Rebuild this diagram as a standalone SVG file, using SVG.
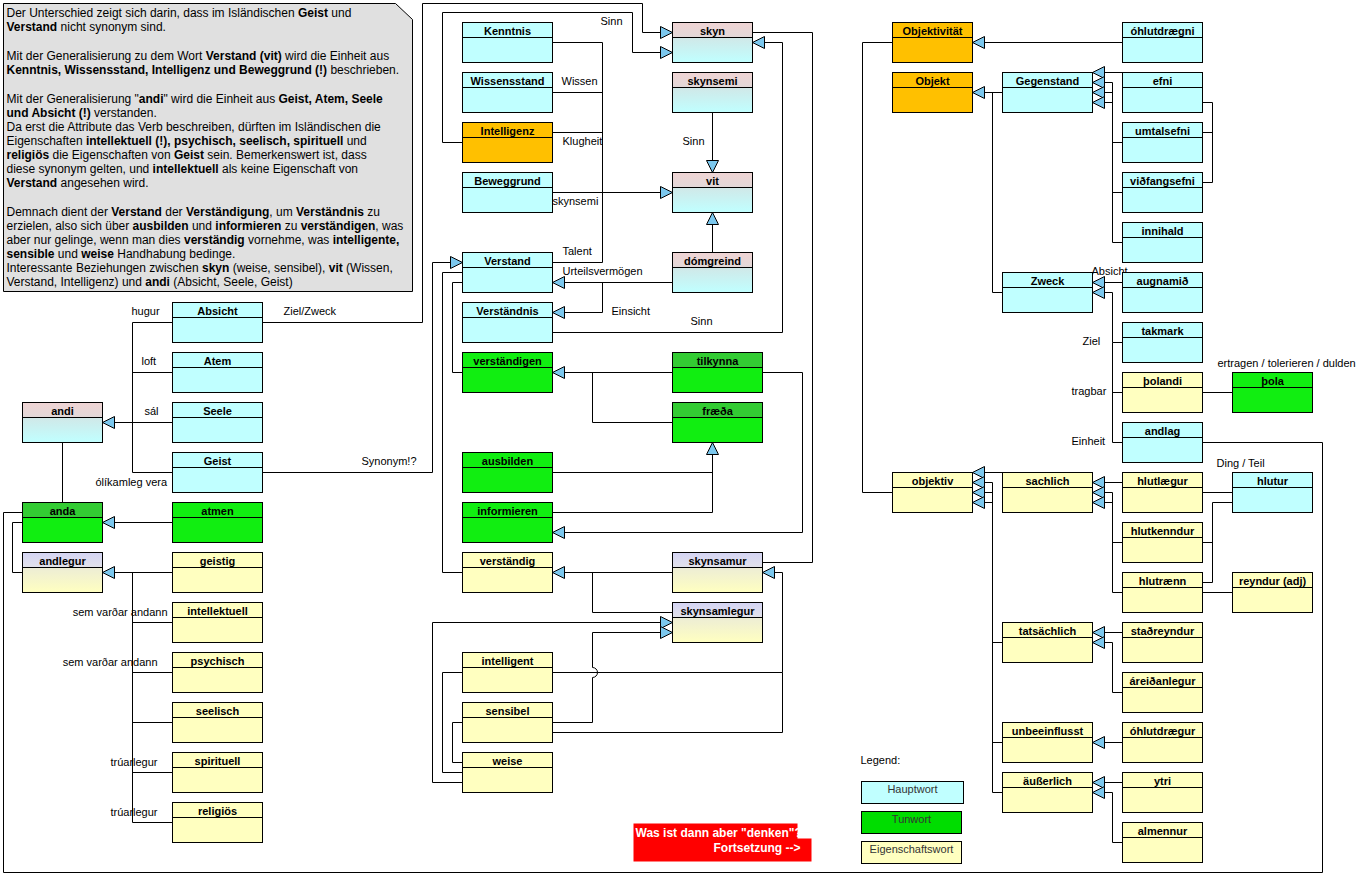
<svg xmlns="http://www.w3.org/2000/svg" width="1366" height="876" viewBox="0 0 1366 876">
<style>
.bx{stroke:#000;stroke-width:1}
.cy{fill:#c0ffff}.or{fill:#ffc000}.ye{fill:#ffffc0}.gr{fill:#11ee11}.gh{fill:#33cc33}
.pk{fill:url(#gPk)}.pkh{fill:url(#gPkH)}.lv{fill:url(#gLv)}.lvh{fill:url(#gLvH)}
.t{font:bold 11px "Liberation Sans",Arial,sans-serif;text-anchor:middle;fill:#000}
.l{font:11px "Liberation Sans",Arial,sans-serif;fill:#000}
.e{text-anchor:end}
.n{font:12px "Liberation Sans",Arial,sans-serif;fill:#000}
.n tspan.b{font-weight:bold}
.c{fill:none;stroke:#000;stroke-width:1}
.a{marker-end:url(#ar)}
.lg{font:11px "Liberation Sans",Arial,sans-serif;fill:#333;text-anchor:middle}
</style>
<defs>
<linearGradient id="gPk" x1="0" y1="0" x2="0" y2="1"><stop offset="0" stop-color="#dadada"/><stop offset="1" stop-color="#c0ffff"/></linearGradient>
<linearGradient id="gPkH" x1="0" y1="0" x2="0" y2="1"><stop offset="0" stop-color="#f0d4d4"/><stop offset="1" stop-color="#e2d8d8"/></linearGradient>
<linearGradient id="gLv" x1="0" y1="0" x2="0" y2="1"><stop offset="0" stop-color="#e2e2e2"/><stop offset="1" stop-color="#ffffc0"/></linearGradient>
<linearGradient id="gLvH" x1="0" y1="0" x2="0" y2="1"><stop offset="0" stop-color="#d4d4f4"/><stop offset="1" stop-color="#e2e2ea"/></linearGradient>
<marker id="ar" viewBox="0 0 13 13" refX="12.5" refY="6.5" markerWidth="13" markerHeight="13" markerUnits="userSpaceOnUse" orient="auto"><path d="M0.5,0.5 L12.5,6.5 L0.5,12.5 Z" fill="#7cc8ee" stroke="#000" stroke-width="1"/></marker>
</defs>
<rect width="1366" height="876" fill="#fff"/>
<g transform="translate(0.5,0.5)">
<g id="note">
<path d="M3,3 H395 L412,19 V291 H3 Z" fill="#e0e0e0" stroke="#000"/>
<text class="n" x="6" y="16">Der Unterschied zeigt sich darin, dass im Isländischen <tspan class="b">Geist</tspan> und</text>
<text class="n" x="6" y="30"><tspan class="b">Verstand</tspan> nicht synonym sind.</text>
<text class="n" x="6" y="59">Mit der Generalisierung zu dem Wort <tspan class="b">Verstand (vit)</tspan> wird die Einheit aus</text>
<text class="n" x="6" y="73"><tspan class="b">Kenntnis, Wissensstand, Intelligenz und Beweggrund (!)</tspan> beschrieben.</text>
<text class="n" x="6" y="102">Mit der Generalisierung "<tspan class="b">andi</tspan>" wird die Einheit aus <tspan class="b">Geist, Atem, Seele</tspan></text>
<text class="n" x="6" y="116"><tspan class="b">und Absicht (!)</tspan> verstanden.</text>
<text class="n" x="6" y="130">Da erst die Attribute das Verb beschreiben, dürften im Isländischen die</text>
<text class="n" x="6" y="144">Eigenschaften <tspan class="b">intellektuell (!), psychisch, seelisch, spirituell</tspan> und</text>
<text class="n" x="6" y="158"><tspan class="b">religiös</tspan> die Eigenschaften von <tspan class="b">Geist</tspan> sein. Bemerkenswert ist, dass</text>
<text class="n" x="6" y="172">diese synonym gelten, und <tspan class="b">intellektuell</tspan> als keine Eigenschaft von</text>
<text class="n" x="6" y="186"><tspan class="b">Verstand</tspan> angesehen wird.</text>
<text class="n" x="6" y="215">Demnach dient der <tspan class="b">Verstand</tspan> der <tspan class="b">Verständigung</tspan>, um <tspan class="b">Verständnis</tspan> zu</text>
<text class="n" x="6" y="229">erzielen, also sich über <tspan class="b">ausbilden</tspan> und <tspan class="b">informieren</tspan> zu <tspan class="b">verständigen</tspan>, was</text>
<text class="n" x="6" y="243">aber nur gelinge, wenn man dies <tspan class="b">verständig</tspan> vornehme, was <tspan class="b">intelligente,</tspan></text>
<text class="n" x="6" y="257"><tspan class="b">sensible</tspan> und <tspan class="b">weise</tspan> Handhabung bedinge.</text>
<text class="n" x="6" y="271">Interessante Beziehungen zwischen <tspan class="b">skyn</tspan> (weise, sensibel), <tspan class="b">vit</tspan> (Wissen,</text>
<text class="n" x="6" y="285">Verstand, Intelligenz) und <tspan class="b">andi</tspan> (Absicht, Seele, Geist)</text>
</g>
<g id="connectors">
<path class="c" d="M172,322 H132 V472 H172 M172,372 H132 M172,422 H132"/>
<path class="c a" d="M132,422 H102"/>
<path class="c" d="M62,442 V502"/>
<path class="c a" d="M172,522 H102"/>
<path class="c a" d="M172,572 H102"/>
<path class="c" d="M132,572 V822 H172 M172,622 H132 M172,672 H132 M172,722 H132 M172,772 H132"/>
<path class="c" d="M22,512 H3 V872 H1322 V442 H1202"/>
<path class="c" d="M22,522 H12 V572 H22"/>
<path class="c a" d="M262,322 H422 V3 H642 V32 H672"/>
<path class="c a" d="M262,472 H432 V262 H462"/>
<path class="c a" d="M462,142 H442 V12 H632 V52 H672"/>
<path class="c" d="M552,42 H602 V262 H552 M552,92 H602 M552,132 H602"/>
<path class="c a" d="M552,192 H672"/>
<path class="c a" d="M712,112 V172"/>
<path class="c a" d="M712,252 V212"/>
<path class="c a" d="M672,282 H552"/>
<path class="c a" d="M602,282 V312 H552"/>
<path class="c a" d="M552,332 H782 V42 H752"/>
<path class="c" d="M752,32 H812 V562 H762"/>
<path class="c" d="M462,272 H442 V572 H462"/>
<path class="c" d="M462,282 H452 V372 H462"/>
<path class="c a" d="M672,372 H552"/>
<path class="c" d="M592,372 V422 H672"/>
<path class="c" d="M552,472 H712"/>
<path class="c a" d="M552,512 H712 V442"/>
<path class="c a" d="M762,372 H802 V532 H552"/>
<path class="c a" d="M672,572 H552"/>
<path class="c" d="M592,572 V612 H672"/>
<path class="c a" d="M552,672 H782 V572 H762"/>
<path class="c" d="M552,732 H782 V672"/>
<path class="c a" d="M462,782 H432 V622 H672"/>
<path class="c a" d="M552,722 H592 V677 A5,5 0 0 0 592,667 V632 H672"/>
<path class="c" d="M462,672 H442 V772 H462"/>
<path class="c" d="M462,722 H452 V762 H462"/>
<path class="c" d="M892,42 H862 V492 H892"/>
<path class="c a" d="M1122,42 H972"/>
<path class="c a" d="M1002,92 H972"/>
<path class="c" d="M992,92 V292 H1002"/>
<path class="c a" d="M1122,72 H1092"/>
<path class="c a" d="M1122,142 H1112 V82 H1092"/>
<path class="c a" d="M1122,192 H1112 V92 H1092"/>
<path class="c a" d="M1122,242 H1112 V102 H1092"/>
<path class="c" d="M1202,102 H1212 V182 H1202 M1202,132 H1212"/>
<path class="c a" d="M1122,282 H1092"/>
<path class="c a" d="M1122,342 H1112 V292 H1092"/>
<path class="c" d="M1122,392 H1112 M1122,442 H1112 V342"/>
<path class="c" d="M1202,392 H1232"/>
<path class="c a" d="M1002,472 H972"/>
<path class="c a" d="M1002,642 H992 V482 H972"/>
<path class="c a" d="M1002,742 H992 V492 H972"/>
<path class="c a" d="M1002,792 H992 V502 H972"/>
<path class="c a" d="M1122,482 H1092"/>
<path class="c a" d="M1122,542 H1112 V492 H1092"/>
<path class="c a" d="M1122,592 H1112 V502 H1092"/>
<path class="c" d="M1202,492 H1232"/>
<path class="c" d="M1232,502 H1212 V582 H1202 M1202,542 H1212"/>
<path class="c" d="M1202,592 H1232"/>
<path class="c a" d="M1122,632 H1092"/>
<path class="c a" d="M1122,692 H1112 V642 H1092"/>
<path class="c a" d="M1122,742 H1092"/>
<path class="c a" d="M1122,782 H1092"/>
<path class="c a" d="M1122,842 H1112 V792 H1092"/>
</g>
<g id="labels">
<text class="l" x="600" y="24">Sinn</text>
<text class="l" x="561" y="84">Wissen</text>
<text class="l" x="562" y="144">Klugheit</text>
<text class="l" x="552" y="204">skynsemi</text>
<text class="l" x="682" y="144">Sinn</text>
<text class="l" x="562" y="254">Talent</text>
<text class="l" x="562" y="274">Urteilsvermögen</text>
<text class="l" x="611" y="314">Einsicht</text>
<text class="l" x="690" y="324">Sinn</text>
<text class="l" x="131" y="314">hugur</text>
<text class="l" x="141" y="364">loft</text>
<text class="l" x="144" y="414">sál</text>
<text class="l" x="95" y="485">ólíkamleg vera</text>
<text class="l" x="283" y="314">Ziel/Zweck</text>
<text class="l" x="361" y="464">Synonym!?</text>
<text class="l e" x="167" y="615">sem varðar andann</text>
<text class="l e" x="157" y="665">sem varðar andann</text>
<text class="l e" x="157" y="765">trúarlegur</text>
<text class="l e" x="157" y="815">trúarlegur</text>
<text class="l" x="1091" y="274">Absicht</text>
<text class="l" x="1082" y="344">Ziel</text>
<text class="l" x="1071" y="394">tragbar</text>
<text class="l" x="1071" y="444">Einheit</text>
<text class="l" x="1217" y="366">ertragen / tolerieren / dulden</text>
<text class="l" x="1216" y="466">Ding / Teil</text>
</g>
<g id="n-andi"><rect class="bx pk" x="22" y="402" width="80" height="40"/><rect class="bx pkh" x="22" y="402" width="80" height="15"/><text class="t" x="62" y="414">andi</text></g>
<g id="n-absicht"><rect class="bx cy" x="172" y="302" width="90" height="40"/><rect class="bx cy" x="172" y="302" width="90" height="15"/><text class="t" x="217" y="314">Absicht</text></g>
<g id="n-atem"><rect class="bx cy" x="172" y="352" width="90" height="40"/><rect class="bx cy" x="172" y="352" width="90" height="15"/><text class="t" x="217" y="364">Atem</text></g>
<g id="n-seele"><rect class="bx cy" x="172" y="402" width="90" height="40"/><rect class="bx cy" x="172" y="402" width="90" height="15"/><text class="t" x="217" y="414">Seele</text></g>
<g id="n-geist"><rect class="bx cy" x="172" y="452" width="90" height="40"/><rect class="bx cy" x="172" y="452" width="90" height="15"/><text class="t" x="217" y="464">Geist</text></g>
<g id="n-anda"><rect class="bx gr" x="22" y="502" width="80" height="40"/><rect class="bx gh" x="22" y="502" width="80" height="15"/><text class="t" x="62" y="514">anda</text></g>
<g id="n-atmen"><rect class="bx gr" x="172" y="502" width="90" height="40"/><rect class="bx gr" x="172" y="502" width="90" height="15"/><text class="t" x="217" y="514">atmen</text></g>
<g id="n-andlegur"><rect class="bx lv" x="22" y="552" width="80" height="40"/><rect class="bx lvh" x="22" y="552" width="80" height="15"/><text class="t" x="62" y="564">andlegur</text></g>
<g id="n-geistig"><rect class="bx ye" x="172" y="552" width="90" height="40"/><rect class="bx ye" x="172" y="552" width="90" height="15"/><text class="t" x="217" y="564">geistig</text></g>
<g id="n-intellektuell"><rect class="bx ye" x="172" y="602" width="90" height="40"/><rect class="bx ye" x="172" y="602" width="90" height="15"/><text class="t" x="217" y="614">intellektuell</text></g>
<g id="n-psychisch"><rect class="bx ye" x="172" y="652" width="90" height="40"/><rect class="bx ye" x="172" y="652" width="90" height="15"/><text class="t" x="217" y="664">psychisch</text></g>
<g id="n-seelisch"><rect class="bx ye" x="172" y="702" width="90" height="40"/><rect class="bx ye" x="172" y="702" width="90" height="15"/><text class="t" x="217" y="714">seelisch</text></g>
<g id="n-spirituell"><rect class="bx ye" x="172" y="752" width="90" height="40"/><rect class="bx ye" x="172" y="752" width="90" height="15"/><text class="t" x="217" y="764">spirituell</text></g>
<g id="n-religioes"><rect class="bx ye" x="172" y="802" width="90" height="40"/><rect class="bx ye" x="172" y="802" width="90" height="15"/><text class="t" x="217" y="814">religiös</text></g>
<g id="n-kenntnis"><rect class="bx cy" x="462" y="22" width="90" height="40"/><rect class="bx cy" x="462" y="22" width="90" height="15"/><text class="t" x="507" y="34">Kenntnis</text></g>
<g id="n-wissensstand"><rect class="bx cy" x="462" y="72" width="90" height="40"/><rect class="bx cy" x="462" y="72" width="90" height="15"/><text class="t" x="507" y="84">Wissensstand</text></g>
<g id="n-intelligenz"><rect class="bx or" x="462" y="122" width="90" height="40"/><rect class="bx or" x="462" y="122" width="90" height="15"/><text class="t" x="507" y="134">Intelligenz</text></g>
<g id="n-beweggrund"><rect class="bx cy" x="462" y="172" width="90" height="40"/><rect class="bx cy" x="462" y="172" width="90" height="15"/><text class="t" x="507" y="184">Beweggrund</text></g>
<g id="n-verstand"><rect class="bx cy" x="462" y="252" width="90" height="40"/><rect class="bx cy" x="462" y="252" width="90" height="15"/><text class="t" x="507" y="264">Verstand</text></g>
<g id="n-verstaendnis"><rect class="bx cy" x="462" y="302" width="90" height="40"/><rect class="bx cy" x="462" y="302" width="90" height="15"/><text class="t" x="507" y="314">Verständnis</text></g>
<g id="n-verstaendigen"><rect class="bx gr" x="462" y="352" width="90" height="40"/><rect class="bx gr" x="462" y="352" width="90" height="15"/><text class="t" x="507" y="364">verständigen</text></g>
<g id="n-ausbilden"><rect class="bx gr" x="462" y="452" width="90" height="40"/><rect class="bx gr" x="462" y="452" width="90" height="15"/><text class="t" x="507" y="464">ausbilden</text></g>
<g id="n-informieren"><rect class="bx gr" x="462" y="502" width="90" height="40"/><rect class="bx gr" x="462" y="502" width="90" height="15"/><text class="t" x="507" y="514">informieren</text></g>
<g id="n-verstaendig"><rect class="bx ye" x="462" y="552" width="90" height="40"/><rect class="bx ye" x="462" y="552" width="90" height="15"/><text class="t" x="507" y="564">verständig</text></g>
<g id="n-intelligent"><rect class="bx ye" x="462" y="652" width="90" height="40"/><rect class="bx ye" x="462" y="652" width="90" height="15"/><text class="t" x="507" y="664">intelligent</text></g>
<g id="n-sensibel"><rect class="bx ye" x="462" y="702" width="90" height="40"/><rect class="bx ye" x="462" y="702" width="90" height="15"/><text class="t" x="507" y="714">sensibel</text></g>
<g id="n-weise"><rect class="bx ye" x="462" y="752" width="90" height="40"/><rect class="bx ye" x="462" y="752" width="90" height="15"/><text class="t" x="507" y="764">weise</text></g>
<g id="n-skyn"><rect class="bx pk" x="672" y="22" width="80" height="40"/><rect class="bx pkh" x="672" y="22" width="80" height="15"/><text class="t" x="712" y="34">skyn</text></g>
<g id="n-skynsemi"><rect class="bx pk" x="672" y="72" width="80" height="40"/><rect class="bx pkh" x="672" y="72" width="80" height="15"/><text class="t" x="712" y="84">skynsemi</text></g>
<g id="n-vit"><rect class="bx pk" x="672" y="172" width="80" height="40"/><rect class="bx pkh" x="672" y="172" width="80" height="15"/><text class="t" x="712" y="184">vit</text></g>
<g id="n-domgreind"><rect class="bx pk" x="672" y="252" width="80" height="40"/><rect class="bx pkh" x="672" y="252" width="80" height="15"/><text class="t" x="712" y="264">dómgreind</text></g>
<g id="n-tilkynna"><rect class="bx gr" x="672" y="352" width="90" height="40"/><rect class="bx gh" x="672" y="352" width="90" height="15"/><text class="t" x="717" y="364">tilkynna</text></g>
<g id="n-fraeda"><rect class="bx gr" x="672" y="402" width="90" height="40"/><rect class="bx gh" x="672" y="402" width="90" height="15"/><text class="t" x="717" y="414">fræða</text></g>
<g id="n-skynsamur"><rect class="bx lv" x="672" y="552" width="90" height="40"/><rect class="bx lvh" x="672" y="552" width="90" height="15"/><text class="t" x="717" y="564">skynsamur</text></g>
<g id="n-skynsamlegur"><rect class="bx lv" x="672" y="602" width="90" height="40"/><rect class="bx lvh" x="672" y="602" width="90" height="15"/><text class="t" x="717" y="614">skynsamlegur</text></g>
<g id="n-objektivitaet"><rect class="bx or" x="892" y="22" width="80" height="40"/><rect class="bx or" x="892" y="22" width="80" height="15"/><text class="t" x="932" y="34">Objektivität</text></g>
<g id="n-ohlutdraegni"><rect class="bx cy" x="1122" y="22" width="80" height="40"/><rect class="bx cy" x="1122" y="22" width="80" height="15"/><text class="t" x="1162" y="34">óhlutdrægni</text></g>
<g id="n-objekt"><rect class="bx or" x="892" y="72" width="80" height="40"/><rect class="bx or" x="892" y="72" width="80" height="15"/><text class="t" x="932" y="84">Objekt</text></g>
<g id="n-gegenstand"><rect class="bx cy" x="1002" y="72" width="90" height="40"/><rect class="bx cy" x="1002" y="72" width="90" height="15"/><text class="t" x="1047" y="84">Gegenstand</text></g>
<g id="n-efni"><rect class="bx cy" x="1122" y="72" width="80" height="40"/><rect class="bx cy" x="1122" y="72" width="80" height="15"/><text class="t" x="1162" y="84">efni</text></g>
<g id="n-umtalsefni"><rect class="bx cy" x="1122" y="122" width="80" height="40"/><rect class="bx cy" x="1122" y="122" width="80" height="15"/><text class="t" x="1162" y="134">umtalsefni</text></g>
<g id="n-vidfangsefni"><rect class="bx cy" x="1122" y="172" width="80" height="40"/><rect class="bx cy" x="1122" y="172" width="80" height="15"/><text class="t" x="1162" y="184">viðfangsefni</text></g>
<g id="n-innihald"><rect class="bx cy" x="1122" y="222" width="80" height="40"/><rect class="bx cy" x="1122" y="222" width="80" height="15"/><text class="t" x="1162" y="234">innihald</text></g>
<g id="n-zweck"><rect class="bx cy" x="1002" y="272" width="90" height="40"/><rect class="bx cy" x="1002" y="272" width="90" height="15"/><text class="t" x="1047" y="284">Zweck</text></g>
<g id="n-augnamid"><rect class="bx cy" x="1122" y="272" width="80" height="40"/><rect class="bx cy" x="1122" y="272" width="80" height="15"/><text class="t" x="1162" y="284">augnamið</text></g>
<g id="n-takmark"><rect class="bx cy" x="1122" y="322" width="80" height="40"/><rect class="bx cy" x="1122" y="322" width="80" height="15"/><text class="t" x="1162" y="334">takmark</text></g>
<g id="n-tholandi"><rect class="bx ye" x="1122" y="372" width="80" height="40"/><rect class="bx ye" x="1122" y="372" width="80" height="15"/><text class="t" x="1162" y="384">þolandi</text></g>
<g id="n-thola"><rect class="bx gr" x="1232" y="372" width="80" height="40"/><rect class="bx gr" x="1232" y="372" width="80" height="15"/><text class="t" x="1272" y="384">þola</text></g>
<g id="n-andlag"><rect class="bx cy" x="1122" y="422" width="80" height="40"/><rect class="bx cy" x="1122" y="422" width="80" height="15"/><text class="t" x="1162" y="434">andlag</text></g>
<g id="n-objektiv"><rect class="bx ye" x="892" y="472" width="80" height="40"/><rect class="bx ye" x="892" y="472" width="80" height="15"/><text class="t" x="932" y="484">objektiv</text></g>
<g id="n-sachlich"><rect class="bx ye" x="1002" y="472" width="90" height="40"/><rect class="bx ye" x="1002" y="472" width="90" height="15"/><text class="t" x="1047" y="484">sachlich</text></g>
<g id="n-hlutlaegur"><rect class="bx ye" x="1122" y="472" width="80" height="40"/><rect class="bx ye" x="1122" y="472" width="80" height="15"/><text class="t" x="1162" y="484">hlutlægur</text></g>
<g id="n-hlutur"><rect class="bx cy" x="1232" y="472" width="80" height="40"/><rect class="bx cy" x="1232" y="472" width="80" height="15"/><text class="t" x="1272" y="484">hlutur</text></g>
<g id="n-hlutkenndur"><rect class="bx ye" x="1122" y="522" width="80" height="40"/><rect class="bx ye" x="1122" y="522" width="80" height="15"/><text class="t" x="1162" y="534">hlutkenndur</text></g>
<g id="n-hlutraenn"><rect class="bx ye" x="1122" y="572" width="80" height="40"/><rect class="bx ye" x="1122" y="572" width="80" height="15"/><text class="t" x="1162" y="584">hlutrænn</text></g>
<g id="n-reyndur"><rect class="bx ye" x="1232" y="572" width="80" height="40"/><rect class="bx ye" x="1232" y="572" width="80" height="15"/><text class="t" x="1272" y="584">reyndur (adj)</text></g>
<g id="n-tatsaechlich"><rect class="bx ye" x="1002" y="622" width="90" height="40"/><rect class="bx ye" x="1002" y="622" width="90" height="15"/><text class="t" x="1047" y="634">tatsächlich</text></g>
<g id="n-stadreyndur"><rect class="bx ye" x="1122" y="622" width="80" height="40"/><rect class="bx ye" x="1122" y="622" width="80" height="15"/><text class="t" x="1162" y="634">staðreyndur</text></g>
<g id="n-areidanlegur"><rect class="bx ye" x="1122" y="672" width="80" height="40"/><rect class="bx ye" x="1122" y="672" width="80" height="15"/><text class="t" x="1162" y="684">áreiðanlegur</text></g>
<g id="n-unbeeinflusst"><rect class="bx ye" x="1002" y="722" width="90" height="40"/><rect class="bx ye" x="1002" y="722" width="90" height="15"/><text class="t" x="1047" y="734">unbeeinflusst</text></g>
<g id="n-ohlutdraegur"><rect class="bx ye" x="1122" y="722" width="80" height="40"/><rect class="bx ye" x="1122" y="722" width="80" height="15"/><text class="t" x="1162" y="734">óhlutdrægur</text></g>
<g id="n-aeusserlich"><rect class="bx ye" x="1002" y="772" width="90" height="40"/><rect class="bx ye" x="1002" y="772" width="90" height="15"/><text class="t" x="1047" y="784">äußerlich</text></g>
<g id="n-ytri"><rect class="bx ye" x="1122" y="772" width="80" height="40"/><rect class="bx ye" x="1122" y="772" width="80" height="15"/><text class="t" x="1162" y="784">ytri</text></g>
<g id="n-almennur"><rect class="bx ye" x="1122" y="822" width="80" height="40"/><rect class="bx ye" x="1122" y="822" width="80" height="15"/><text class="t" x="1162" y="834">almennur</text></g>
<g id="legend">
<text class="l" x="860" y="763" fill="#333">Legend:</text>
<rect class="bx cy" x="861" y="781" width="102" height="22"/><text class="lg" x="912" y="792">Hauptwort</text>
<rect class="bx" x="861" y="811" width="100" height="22" fill="#00dd00"/><text class="lg" x="911" y="822">Tunwort</text>
<rect class="bx ye" x="861" y="841" width="100" height="22"/><text class="lg" x="911" y="852">Eigenschaftswort</text>
</g>
<g id="n-denken">
<path d="M633,823 H797 V838 H811 V861 H633 Z" fill="#ff0000"/>
<text x="635" y="836" fill="#fff" style="font:bold 12px 'Liberation Sans',Arial,sans-serif">Was ist dann aber "denken"?</text>
<text x="800" y="851" fill="#fff" text-anchor="end" style="font:bold 12px 'Liberation Sans',Arial,sans-serif">Fortsetzung --&gt;</text>
</g>
</g>
</svg>
